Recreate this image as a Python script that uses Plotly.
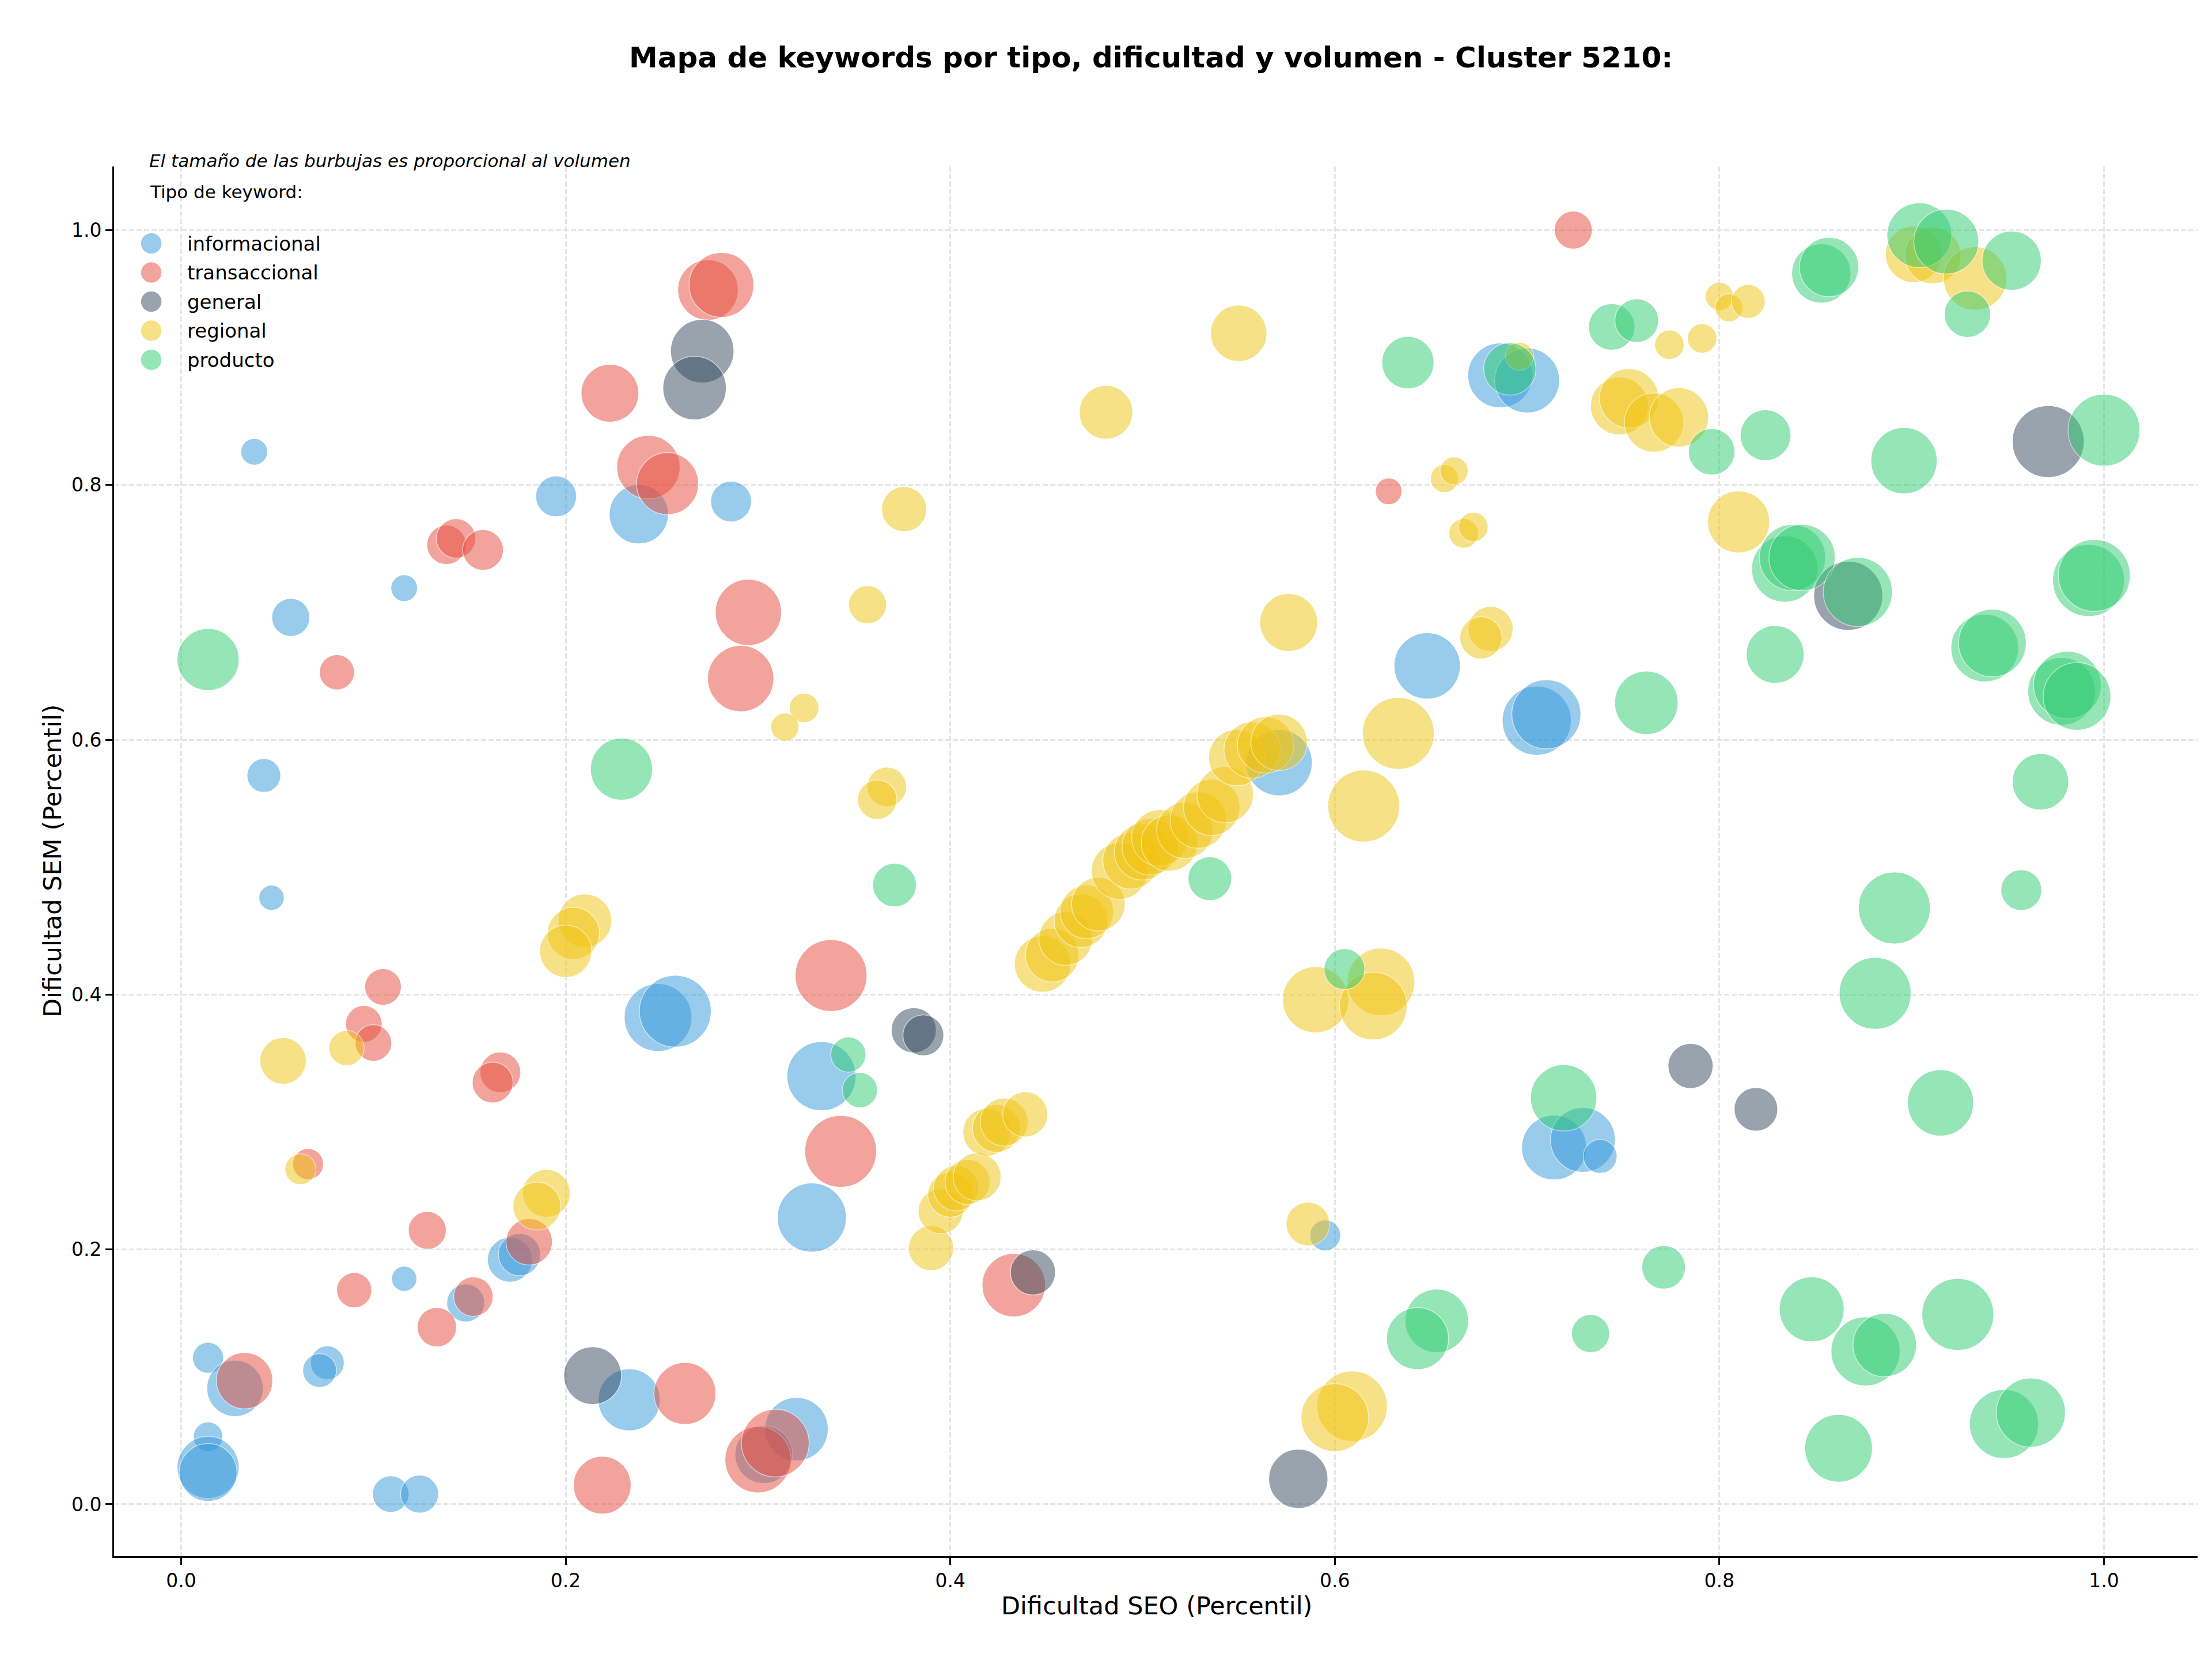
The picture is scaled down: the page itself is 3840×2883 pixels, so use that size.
import numpy as np
import plotly.graph_objects as go

# ---------------- data ----------------
tipos = ["informacional", "transaccional", "general", "regional", "producto"]
colores = ["#3498db", "#e74c3c", "#34495e", "#f1c40f", "#2ecc71"]

info_seo = [0.038, 0.057, 0.116, 0.195, 0.238, 0.286, 0.043, 0.047, 0.248, 0.257,
            0.333, 0.328, 0.116, 0.171, 0.176, 0.148, 0.014, 0.028, 0.014, 0.014,
            0.014, 0.076, 0.072, 0.109, 0.124, 0.233, 0.320, 0.303, 0.571, 0.648,
            0.705, 0.710, 0.686, 0.700, 0.714, 0.729, 0.738, 0.595]
info_sem = [0.826, 0.696, 0.719, 0.791, 0.777, 0.787, 0.572, 0.476, 0.382, 0.387,
            0.336, 0.225, 0.177, 0.192, 0.196, 0.158, 0.115, 0.091, 0.053, 0.029,
            0.025, 0.111, 0.105, 0.008, 0.008, 0.082, 0.059, 0.039, 0.582, 0.658,
            0.615, 0.620, 0.886, 0.882, 0.280, 0.286, 0.273, 0.211]
info_vol = [361, 729, 361, 841, 1764, 841, 576, 324, 2304, 2601,
            2401, 2401, 324, 1024, 900, 729, 484, 1600, 441, 1936,
            1681, 576, 576, 676, 729, 1936, 2025, 1681, 2209, 2209,
            2401, 2401, 2116, 2116, 2116, 2116, 576, 484]

trans_seo = [0.724, 0.628, 0.274, 0.281, 0.223, 0.243, 0.253, 0.138, 0.143, 0.157,
             0.295, 0.291, 0.081, 0.105, 0.095, 0.100, 0.166, 0.162, 0.066, 0.128,
             0.181, 0.090, 0.152, 0.133, 0.033, 0.219, 0.262, 0.338, 0.343, 0.433,
             0.300, 0.309]
trans_sem = [1.000, 0.795, 0.953, 0.957, 0.872, 0.814, 0.801, 0.753, 0.758, 0.749,
             0.700, 0.648, 0.653, 0.406, 0.377, 0.362, 0.339, 0.331, 0.267, 0.215,
             0.206, 0.168, 0.163, 0.139, 0.097, 0.015, 0.087, 0.415, 0.277, 0.172,
             0.035, 0.048]
trans_vol = [729, 361, 1849, 2116, 1681, 2025, 1936, 784, 784, 841,
             2209, 2209, 625, 676, 676, 676, 841, 841, 484, 729,
             1089, 625, 784, 784, 1600, 1681, 1936, 2601, 2601, 2025,
             2209, 2304]

gen_seo = [0.271, 0.267, 0.381, 0.386, 0.214, 0.443, 0.581, 0.785, 0.819, 0.867, 0.971]
gen_sem = [0.905, 0.876, 0.372, 0.368, 0.101, 0.182, 0.020, 0.344, 0.310, 0.713, 0.834]
gen_vol = [2025, 2025, 1024, 841, 1681, 1024, 1764, 1024, 961, 2401, 2601]

reg_seo = [0.550, 0.481, 0.376, 0.357, 0.324, 0.314, 0.367, 0.362, 0.210, 0.204,
           0.200, 0.053, 0.086, 0.062, 0.190, 0.185, 0.390, 0.395, 0.400, 0.403,
           0.409, 0.414, 0.419, 0.424, 0.428, 0.439, 0.448, 0.453, 0.460, 0.468,
           0.471, 0.477, 0.488, 0.494, 0.500, 0.504, 0.509, 0.514, 0.522, 0.529,
           0.536, 0.543, 0.549, 0.557, 0.564, 0.571, 0.633, 0.615, 0.590, 0.624,
           0.620, 0.586, 0.609, 0.600, 0.576, 0.681, 0.676, 0.667, 0.672, 0.657,
           0.662, 0.696, 0.748, 0.753, 0.766, 0.779, 0.774, 0.791, 0.800, 0.805,
           0.815, 0.810, 0.901, 0.911, 0.933]
reg_sem = [0.919, 0.857, 0.781, 0.706, 0.625, 0.610, 0.563, 0.553, 0.458, 0.448,
           0.434, 0.348, 0.358, 0.263, 0.244, 0.234, 0.201, 0.230, 0.243, 0.248,
           0.253, 0.257, 0.292, 0.295, 0.300, 0.306, 0.424, 0.431, 0.444, 0.458,
           0.465, 0.471, 0.497, 0.505, 0.512, 0.516, 0.523, 0.519, 0.529, 0.537,
           0.547, 0.557, 0.586, 0.592, 0.596, 0.598, 0.605, 0.548, 0.396, 0.410,
           0.391, 0.220, 0.077, 0.068, 0.692, 0.687, 0.680, 0.762, 0.767, 0.805,
           0.811, 0.901, 0.862, 0.868, 0.849, 0.853, 0.910, 0.915, 0.948, 0.939,
           0.944, 0.771, 0.981, 0.980, 0.962]
reg_vol = [1600, 1444, 1024, 729, 441, 400, 784, 784, 1444, 1369,
           1369, 1089, 625, 484, 1156, 1156, 1024, 1024, 1024, 1024,
           1024, 1156, 1156, 1156, 1156, 1024, 1600, 1444, 1444, 1444,
           1444, 1444, 1600, 1600, 1600, 1600, 1600, 1600, 1600, 1600,
           1600, 1600, 1600, 1600, 1600, 1600, 2601, 2601, 2209, 2304,
           2304, 961, 2500, 2304, 1681, 1024, 900, 441, 441, 400,
           400, 400, 1681, 1764, 1764, 1764, 441, 441, 400, 400,
           576, 1936, 1600, 1600, 2025]

prod_seo = [0.014, 0.229, 0.371, 0.347, 0.353, 0.535, 0.605, 0.638, 0.691, 0.744,
            0.757, 0.762, 0.719, 0.771, 0.733, 0.653, 0.643, 0.796, 0.824, 0.853,
            0.857, 0.904, 0.918, 0.952, 0.929, 0.896, 1.000, 0.834, 0.838, 0.843,
            0.872, 0.992, 0.995, 0.829, 0.938, 0.942, 0.978, 0.981, 0.986, 0.967,
            0.957, 0.891, 0.881, 0.915, 0.848, 0.876, 0.886, 0.924, 0.862, 0.948,
            0.962]
prod_sem = [0.663, 0.577, 0.486, 0.353, 0.325, 0.491, 0.420, 0.896, 0.891, 0.924,
            0.929, 0.629, 0.319, 0.186, 0.134, 0.144, 0.130, 0.826, 0.839, 0.966,
            0.971, 0.996, 0.991, 0.976, 0.934, 0.819, 0.843, 0.734, 0.743, 0.743,
            0.716, 0.725, 0.729, 0.667, 0.672, 0.676, 0.638, 0.643, 0.634, 0.567,
            0.482, 0.468, 0.401, 0.315, 0.153, 0.120, 0.125, 0.149, 0.044, 0.063,
            0.072]
prod_vol = [1936, 1936, 961, 625, 625, 961, 841, 1369, 1369, 1089,
            961, 2025, 2209, 961, 729, 2025, 1936, 1089, 1296, 1764,
            1764, 2116, 2116, 1764, 1089, 2209, 2601, 2209, 2209, 2209,
            2401, 2601, 2601, 1681, 2304, 2304, 2304, 2304, 2304, 1600,
            841, 2601, 2601, 2209, 2116, 2401, 2025, 2601, 2304, 2401,
            2401]

x_ticks = [0.0, 0.2, 0.4, 0.6, 0.8, 1.0]
y_ticks = [0.0, 0.2, 0.4, 0.6, 0.8, 1.0]
tick_labels = ["0.0", "0.2", "0.4", "0.6", "0.8", "1.0"]

titulo = "Mapa de keywords por tipo, dificultad y volumen - Cluster 5210:"
nota = "El tamaño de las burbujas es proporcional al volumen"
leyenda_titulo = "Tipo de keyword:"

series = [
    (info_seo, info_sem, info_vol),
    (trans_seo, trans_sem, trans_vol),
    (gen_seo, gen_sem, gen_vol),
    (reg_seo, reg_sem, reg_vol),
    (prod_seo, prod_sem, prod_vol),
]

# ---------------- figure ----------------
FONT = "DejaVu Sans"
W, H = 3840, 2883
L, R, T, B = 198, 25, 289, 182
PW, PH = W - L - R, H - T - B
SIZEREF = 2.0 / (2.449 ** 2)   # area mode: diameter = 2.449*sqrt(vol)

fig = go.Figure()
for name, col, (sx, sy, vol) in zip(tipos, colores, series):
    fig.add_trace(go.Scatter(
        x=sx, y=sy, mode="markers", name=name,
        marker=dict(size=vol, sizemode="area", sizeref=SIZEREF,
                    color=col, opacity=0.5,
                    line=dict(color="white", width=1.5)),
    ))

def px_x(p):
    return (p - L) / PW

def px_y(p):
    return (H - B - p) / PH

annotations = []
shapes = []
# title
annotations.append(dict(text="<b>" + titulo + "</b>", xref="paper", yref="paper",
                        x=px_x(1998), y=px_y(100), xanchor="center", yanchor="middle",
                        showarrow=False, font=dict(family=FONT, size=50, color="black")))
# note
annotations.append(dict(text="<i>" + nota + "</i>", xref="paper", yref="paper",
                        x=px_x(257), y=px_y(279), xanchor="left", yanchor="middle",
                        showarrow=False, font=dict(family=FONT, size=31, color="black")))
# legend title
annotations.append(dict(text=leyenda_titulo, xref="paper", yref="paper",
                        x=px_x(258), y=px_y(333), xanchor="left", yanchor="middle",
                        showarrow=False, font=dict(family=FONT, size=31, color="black")))
# legend entries
leg_y = [422.5, 473.0, 523.5, 574.0, 624.5]
for name, col, ly in zip(tipos, colores, leg_y):
    shapes.append(dict(type="circle", xref="paper", yref="paper",
                       xsizemode="pixel", ysizemode="pixel",
                       xanchor=px_x(262.6), yanchor=px_y(ly),
                       x0=-18.5, x1=18.5, y0=-18.5, y1=18.5,
                       fillcolor=col, opacity=0.5, line=dict(color="white", width=1.5)))
    annotations.append(dict(text=name, xref="paper", yref="paper",
                            x=px_x(323), y=px_y(ly), xanchor="left", yanchor="middle",
                            showarrow=False, font=dict(family=FONT, size=34, color="black")))
# axis titles
annotations.append(dict(text="Dificultad SEO (Percentil)", xref="paper", yref="paper",
                        x=px_x(2008), y=px_y(2787), xanchor="center", yanchor="middle",
                        showarrow=False, font=dict(family=FONT, size=43, color="black")))
annotations.append(dict(text="Dificultad SEM (Percentil)", xref="paper", yref="paper",
                        x=px_x(91), y=px_y(1494), xanchor="center", yanchor="middle",
                        textangle=-90, showarrow=False,
                        font=dict(family=FONT, size=43, color="black")))

axis_common = dict(showline=True, linecolor="black", linewidth=2.7, mirror=False,
                   ticks="outside", ticklen=12, tickwidth=2.7, tickcolor="black",
                   showgrid=True, gridcolor="#e6e6e6", gridwidth=2.5, griddash="9px,4px",
                   zeroline=False, tickfont=dict(family=FONT, size=33, color="black"))

fig.update_xaxes(range=[-0.0349, 1.0487], tickvals=x_ticks, ticktext=tick_labels, **axis_common)
fig.update_yaxes(range=[-0.0407, 1.0499], tickvals=y_ticks, ticktext=tick_labels, **axis_common)

fig.update_layout(width=W, height=H, margin=dict(l=L, r=R, t=T, b=B, autoexpand=False),
                  paper_bgcolor="white", plot_bgcolor="white", showlegend=False,
                  font=dict(family=FONT, color="black"),
                  annotations=annotations, shapes=shapes)

fig.write_html("out.html")
